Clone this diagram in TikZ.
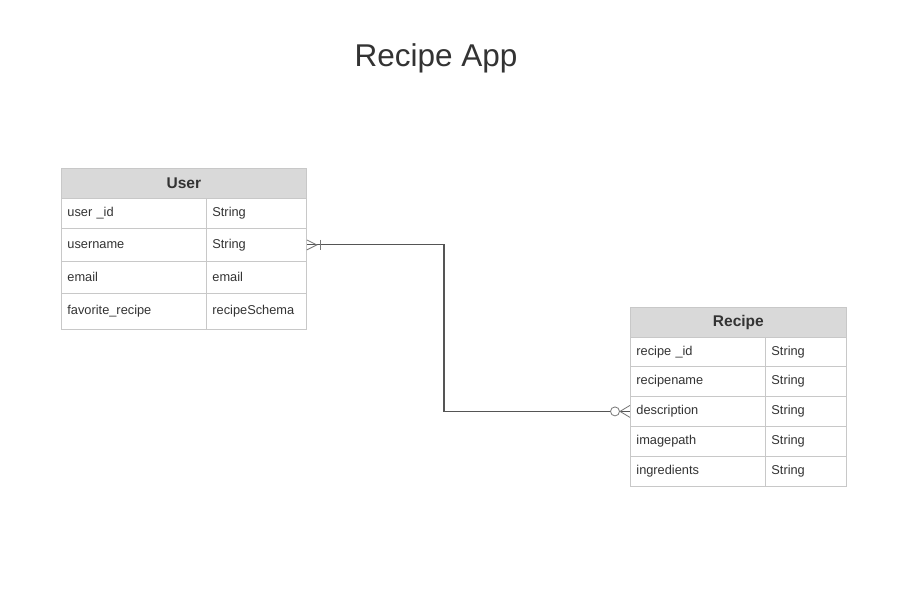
\documentclass[tikz,border=0pt]{standalone}
\usepackage{fontspec}
\setmainfont{Liberation Sans}
\usetikzlibrary{calc}
\definecolor{bordc}{HTML}{C8C8C8}
\definecolor{headc}{HTML}{D9D9D9}
\definecolor{txtc}{HTML}{333333}
\definecolor{linec}{HTML}{555555}
\tikzset{
  cell/.style={draw=bordc, line width=0.8pt, anchor=north west, inner sep=0pt, inner xsep=6pt,
    text width=#1-12pt, align=left, minimum width=#1, font=\fontsize{12.8}{14}\selectfont, text=txtc},
  head/.style={draw=bordc, line width=0.8pt, fill=headc, anchor=north west, inner sep=0pt,
    minimum width=#1, minimum height=30pt, font=\fontsize{15.5}{18}\selectfont\bfseries, text=txtc},
  rel/.style={draw=linec, line width=1.1pt},
  ermark/.style={draw=linec!80, line width=0.8pt}
}
\begin{document}
\begin{tikzpicture}[x=1pt,y=-1pt]
\useasboundingbox[fill=white] (0,0) rectangle (904,592);
\node[font=\fontsize{31.5}{36}\selectfont, text=txtc] (title) at (436,58) {Recipe App};
% User table
\node[head=245pt] (uh) at (61,168) {User};
\node[cell=145pt, minimum height=30pt] (u1a) at (61,198) {user \_id};
\node[cell=100pt, minimum height=30pt] (u1b) at (206,198) {String};
\node[cell=145pt, minimum height=33pt] (u2a) at (61,228) {username};
\node[cell=100pt, minimum height=33pt] (u2b) at (206,228) {String};
\node[cell=145pt, minimum height=32pt] (u3a) at (61,261) {email};
\node[cell=100pt, minimum height=32pt] (u3b) at (206,261) {email};
\node[cell=145pt, minimum height=36pt] (u4a) at (61,293) {favorite\_recipe};
\node[cell=100pt, minimum height=36pt] (u4b) at (206,293) {recipeSchema};
% Recipe table
\node[head=216pt] (rh) at (630,307) {Recipe};
\node[cell=135pt, minimum height=29pt] (r1a) at (630,337) {recipe \_id};
\node[cell=81pt, minimum height=29pt] (r1b) at (765,337) {String};
\node[cell=135pt, minimum height=30pt] (r2a) at (630,366) {recipename};
\node[cell=81pt, minimum height=30pt] (r2b) at (765,366) {String};
\node[cell=135pt, minimum height=30pt] (r3a) at (630,396) {description};
\node[cell=81pt, minimum height=30pt] (r3b) at (765,396) {String};
\node[cell=135pt, minimum height=30pt] (r4a) at (630,426) {imagepath};
\node[cell=81pt, minimum height=30pt] (r4b) at (765,426) {String};
\node[cell=135pt, minimum height=30pt] (r5a) at (630,456) {ingredients};
\node[cell=81pt, minimum height=30pt] (r5b) at (765,456) {String};
% relation
\coordinate (bendx) at (444,0);
\draw[rel] (u2b.east) -- (u2b.east -| bendx) |- (r3a.west);
% crow's foot (one-or-many) at User
\draw[ermark] ($(u2b.east)+(0,-5)$) -- ($(u2b.east)+(10,0)$) -- ($(u2b.east)+(0,5)$);
\draw[ermark] ($(u2b.east)+(14,-5)$) -- ($(u2b.east)+(14,5)$);
% zero-or-many at Recipe
\draw[ermark, fill=white] ($(r3a.west)+(-15,0)$) circle (4.5);
\draw[ermark] ($(r3a.west)+(0,-6)$) -- ($(r3a.west)+(-10,0)$) -- ($(r3a.west)+(0,6)$);
\end{tikzpicture}
\end{document}
